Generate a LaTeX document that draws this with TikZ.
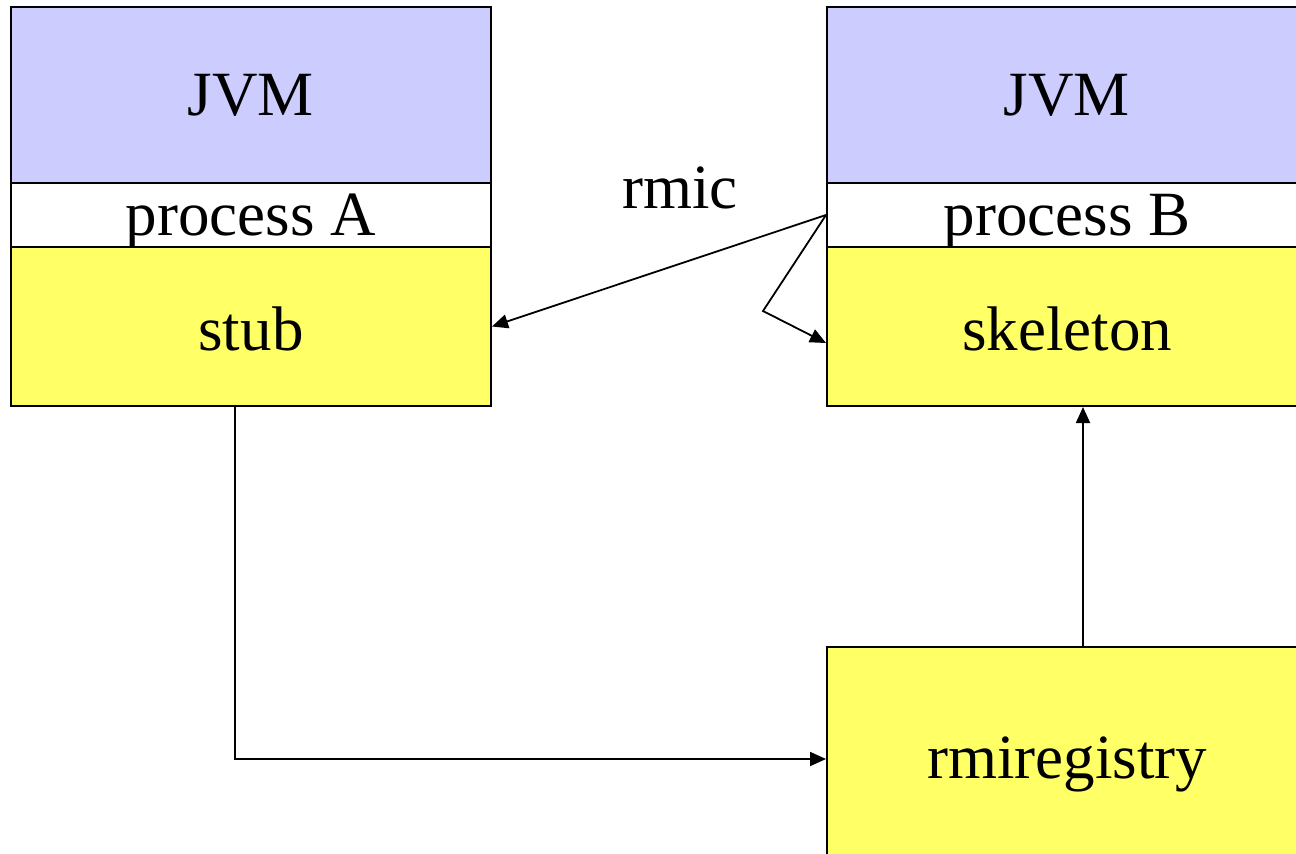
\documentclass[tikz,border=0pt]{standalone}
\usepackage{fontspec}
\setmainfont{Liberation Serif}
\usetikzlibrary{arrows.meta}
\definecolor{jvmblue}{HTML}{CCCCFF}
\definecolor{partyellow}{HTML}{FFFF66}
\begin{document}
\begin{tikzpicture}[x=0.5pt,y=-0.5pt,
  box/.style={draw=black, line width=1pt, inner sep=0pt, minimum width=240pt,
    font=\fontsize{31.5}{36}\selectfont},
  jvm/.style={box, fill=jvmblue, minimum height=88pt},
  proc/.style={box, fill=white, minimum height=32pt, text depth=0pt},
  part/.style={box, fill=partyellow, minimum height=79.5pt, text height=24.5pt},
  link/.style={line width=0.9pt, -{Triangle[length=8pt,width=7pt]}},
  lbl/.style={inner sep=0pt, font=\fontsize{31.5}{36}\selectfont}]
\useasboundingbox (0,0) rectangle (1296,853);
\clip (0,0) rectangle (1296,853);
% process A
\node[jvm]  (jvmA)  at (251,95)    {JVM};
\node[proc] (procA) at (251,215)   {process A};
\node[part] (stub)  at (251,326.5) {stub};
% process B
\node[jvm]  (jvmB)  at (1067,95)    {JVM};
\node[proc] (procB) at (1067,215)   {process B};
\node[part] (skel)  at (1067,326.5) {skeleton};
% registry
\node[part, minimum height=112pt, text height=24pt, text depth=5pt] (reg) at (1067,759) {rmiregistry};
% rmic label
\node[lbl] (rmic) at (680,188) {rmic};
% connectors
\coordinate (bend) at (763,311);
\draw[link] (procB.west) -- (stub.east);
\draw[link] (procB.west) -- (bend) -- ([yshift=-8.25pt]skel.west);
\draw[link] ([xshift=-8pt]stub.south) |- (reg.west);
\draw[link] ([xshift=8pt]reg.north) -- ([xshift=8pt]skel.south);
\end{tikzpicture}
\end{document}
